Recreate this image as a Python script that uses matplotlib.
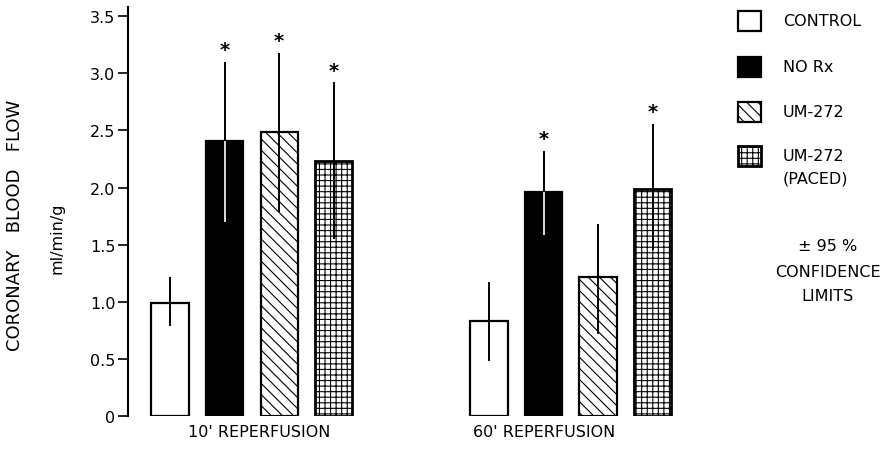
import matplotlib
matplotlib.use('Agg')
import matplotlib.pyplot as plt
from matplotlib.patches import Rectangle

# data
groups = ["10' REPERFUSION", "60' REPERFUSION"]
treatments = ['CONTROL', 'NO Rx', 'UM-272', 'UM-272\n(PACED)']
flow_10 = [0.99, 2.41, 2.49, 2.23]
flow_60 = [0.83, 1.96, 1.22, 1.99]
low_10 = [0.79, 1.70, 1.79, 1.55]
high_10 = [1.22, 3.10, 3.18, 2.92]
low_60 = [0.48, 1.58, 0.72, 1.45]
high_60 = [1.17, 2.32, 1.68, 2.56]
signif_10 = [False, True, True, True]
signif_60 = [False, True, False, True]
yticks = [0, 0.5, 1.0, 1.5, 2.0, 2.5, 3.0, 3.5]
ytick_labels = ['0', '0.5', '1.0', '1.5', '2.0', '2.5', '3.0', '3.5']

faces = ['white', 'black', 'white', 'white']
hatches = [None, None, '\\\\\\', '+++']
edge_w = [1.6, 1.6, 1.6, 2.0]

plt.rcParams['hatch.linewidth'] = 0.8
plt.rcParams['font.family'] = 'DejaVu Sans'

fig = plt.figure(figsize=(8.95, 4.56), dpi=100)
W, H = 895, 456
ax = fig.add_axes([128 / W, 39 / H, 572 / W, 409 / H])

gap = 5.85
width = 0.68
all_flow = [flow_10, flow_60]
all_low = [low_10, low_60]
all_high = [high_10, high_60]
all_sig = [signif_10, signif_60]

for g in range(2):
    for i in range(4):
        x = i + g * gap
        v = all_flow[g][i]
        ax.bar(x, v, width=width, color=faces[i], edgecolor='black',
               linewidth=edge_w[i], hatch=hatches[i], zorder=2)
        lo, hi = all_low[g][i], all_high[g][i]
        ax.plot([x, x], [v, hi], color='black', lw=1.4, zorder=3,
                solid_capstyle='butt')
        ax.plot([x, x], [lo, v], color='white' if faces[i] == 'black' else 'black',
                lw=1.2 if faces[i] == 'black' else 1.4, zorder=3,
                solid_capstyle='butt')
        if all_sig[g][i]:
            ax.annotate('*', (x, hi), xytext=(0, 2), textcoords='offset points',
                        ha='center', va='bottom', fontsize=14, fontweight='bold')

ax.set_xlim(-0.77, 9.72)
ax.set_ylim(0, 3.58)
ax.set_yticks(yticks)
ax.set_yticklabels(ytick_labels, fontsize=11.5)
ax.tick_params(axis='y', direction='out', length=7, width=1.2, pad=2)
ax.set_xticks([])
for s in ['top', 'right', 'bottom']:
    ax.spines[s].set_visible(False)
ax.spines['left'].set_linewidth(1.5)

fig.text(15 / W, 1 - 225 / H, 'CORONARY   BLOOD   FLOW', rotation=90,
         ha='center', va='center', fontsize=13)
fig.text(57 / W, 1 - 238 / H, 'ml/min/g', rotation=90,
         ha='center', va='center', fontsize=11.5)

fig.text(259 / W, 1 - 433 / H, groups[0], ha='center', va='center', fontsize=11.5)
fig.text(544 / W, 1 - 433 / H, groups[1], ha='center', va='center', fontsize=11.5)

# legend drawn in pixel coordinates
leg = fig.add_axes([0, 0, 1, 1], zorder=-1)
leg.set_xlim(0, W)
leg.set_ylim(H, 0)
leg.axis('off')
box_tops = [12, 58, 103, 147]
for i, lab in enumerate(treatments):
    leg.add_patch(Rectangle((738, box_tops[i]), 23, 20, facecolor=faces[i],
                            edgecolor='black', linewidth=edge_w[i],
                            hatch=hatches[i]))
    leg.text(783, box_tops[i] + 10, lab, ha='left', va='top' if '\n' in lab else 'center',
             fontsize=11.5, linespacing=1.6)
leg.texts[-1].set_y(box_tops[-1] + 2)
leg.text(828, 247, '± 95 %', ha='center', va='center', fontsize=11.5)
leg.text(828, 273, 'CONFIDENCE', ha='center', va='center', fontsize=11.5)
leg.text(828, 297, 'LIMITS', ha='center', va='center', fontsize=11.5)

fig.savefig('out.png', dpi=100)
